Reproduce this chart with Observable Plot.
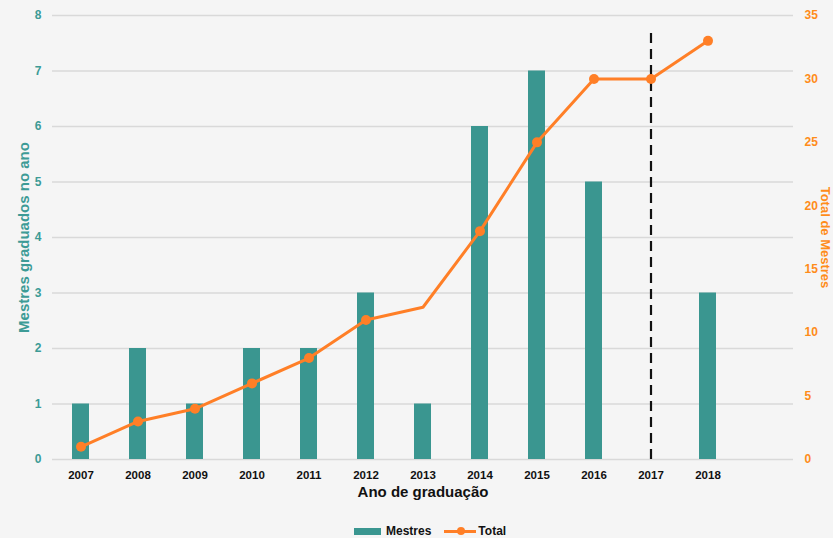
<!DOCTYPE html>
<html><head><meta charset="utf-8">
<script src="https://cdn.jsdelivr.net/npm/d3@7"></script>
<script src="https://cdn.jsdelivr.net/npm/@observablehq/plot@0.6"></script>
<style>
html,body{margin:0;padding:0;background:#f5f5f5;font-family:"Liberation Sans",Arial,sans-serif;}
#wrap{position:relative;width:833px;height:538px;overflow:hidden;}
#legend{position:absolute;left:354px;top:522px;height:18px;display:flex;align-items:center;font-size:12px;font-weight:bold;color:#111;}
.sw{display:inline-block;width:27px;height:7px;background:#3a9690;margin-right:5px;}
.ln{display:inline-block;position:relative;width:32px;height:3px;background:#ff7f27;margin-left:13px;margin-right:2px;}
.ln::after{content:"";position:absolute;left:13px;top:-2.5px;width:8px;height:8px;border-radius:50%;background:#ff7f27;}
</style></head><body>
<div id="wrap"><div id="chart"></div>
<div id="legend"><span class="sw"></span><span>Mestres</span><span class="ln"></span><span>Total</span></div></div>
<script>
const years = ["2007","2008","2009","2010","2011","2012","2013","2014","2015","2016","2017","2018"];
const mestres = [1,2,1,2,2,3,1,6,7,5,0,3];
const total = [1,3,4,6,8,11,12,18,25,30,30,33];
const totalMarked = [true,true,true,true,true,true,false,true,true,true,true,true];
const leftTicks = [0,1,2,3,4,5,6,7,8];
const rightTicks = [0,5,10,15,20,25,30,35];
const cutoffYear = "2017";
const cutoffTop = 7.7;
const leftMax = 8, rightMax = 35;

const teal = "#3a9690", orange = "#ff7f27", orangeText = "#ff8c1a", tealText = "#3d9b96";
const k = leftMax / rightMax;
const data = years.map((y, i) => ({year: y, mestres: mestres[i], total: total[i], marked: totalMarked[i]}));
const xDomain = [...years, " "];

const chart = Plot.plot({
  width: 833, height: 520,
  marginLeft: 52, marginRight: 40, marginTop: 15, marginBottom: 61,
  style: {background: "#f5f5f5", fontFamily: "'Liberation Sans', Arial, sans-serif", overflow: "visible"},
  x: {domain: xDomain, paddingInner: 0.7, paddingOuter: 0.35, axis: null},
  y: {domain: [0, leftMax], axis: null},
  marks: [
    Plot.gridY(leftTicks, {stroke: "#d9d9d9", strokeOpacity: 1, strokeWidth: 1.3}),
    Plot.barY(data, {x: "year", y: "mestres", fill: teal}),
    Plot.ruleX([cutoffYear], {x: d => d, y1: 0, y2: cutoffTop, stroke: "#111", strokeWidth: 2.2, strokeDasharray: "10,6"}),
    Plot.line(data, {x: "year", y: d => d.total * k, stroke: orange, strokeWidth: 3}),
    Plot.dot(data.filter(d => d.marked), {x: "year", y: d => d.total * k, r: 5, fill: orange}),
    Plot.axisY(leftTicks, {anchor: "left", tickSize: 0, tickPadding: 11, fontSize: 12, fontWeight: "bold", color: tealText, label: null, tickFormat: d => String(d)}),
    Plot.axisY(rightTicks, {y: d => d * k, anchor: "right", tickSize: 0, tickPadding: 11, fontSize: 12, fontWeight: "bold", color: orangeText, textAnchor: "start", label: null, tickFormat: d => String(d)}),
    Plot.axisX(years, {anchor: "bottom", tickSize: 0, tickPadding: 11, fontSize: 11.5, fontWeight: "bold", color: "#111", label: null}),
    Plot.text(["Ano de graduação"], {frameAnchor: "bottom", dy: 37, fontSize: 15, fontWeight: "bold", fill: "#111"}),
    Plot.text(["Mestres graduados no ano"], {frameAnchor: "left", textAnchor: "middle", dx: -28, rotate: -90, fontSize: 15, fontWeight: "bold", fill: tealText}),
    Plot.text(["Total de Mestres"], {frameAnchor: "right", textAnchor: "middle", dx: 32, rotate: 90, fontSize: 13, fontWeight: "bold", fill: orangeText})
  ]
});
document.getElementById("chart").appendChild(chart);
</script>
</body></html>
